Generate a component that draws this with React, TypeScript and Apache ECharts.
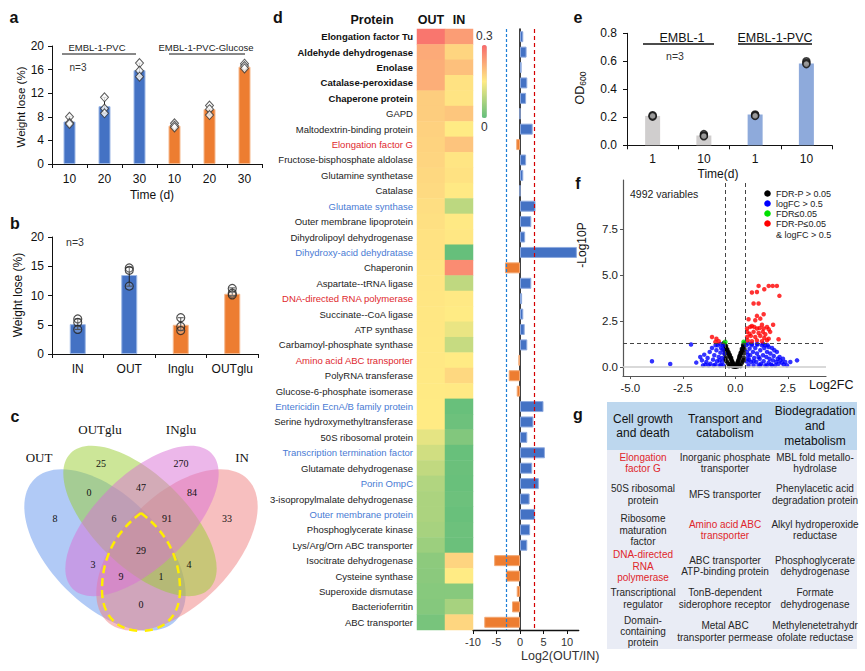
import React, { useEffect, useRef } from "react";
import * as echarts from "echarts";

const FONT = '"Liberation Sans", Arial, sans-serif';
const SERIF = '"Liberation Serif", "Times New Roman", serif';

// ---------- Panel a ----------
const aCategories = ["10", "20", "30", "10", "20", "30"];
const aValues = [7.2, 9.8, 15.9, 6.5, 9.3, 16.5];
const aPoints = [
  [8.0, 7.0, 6.8],
  [11.3, 9.4, 8.6],
  [17.1, 15.8, 14.8],
  [6.9, 6.5, 6.2],
  [9.9, 9.3, 8.3],
  [17.0, 16.6, 16.2],
];
const aErrLow = [6.8, 8.6, 14.8, 6.2, 8.3, 16.0];
const aErrHigh = [8.0, 11.3, 17.1, 6.9, 9.9, 17.0];

// ---------- Panel b ----------
const bCategories = ["IN", "OUT", "Inglu", "OUTglu"];
const bValues = [5.1, 13.5, 5.0, 10.3];
const bPoints = [
  [6.0, 5.4, 4.2],
  [14.7, 14.3, 11.6],
  [6.2, 4.7, 4.0],
  [11.2, 10.4, 10.1],
];
const bErrLow = [4.2, 11.6, 4.0, 10.0];
const bErrHigh = [6.0, 14.8, 6.2, 11.3];

// ---------- Panel c (Venn) ----------
const vennSets = ["OUT", "OUTglu", "INglu", "IN"];
const vennCounts = [25, 270, 0, 47, 84, 8, 6, 91, 33, 29, 3, 9, 1, 4, 0];

// ---------- Panel d ----------
const proteins = [
  "Elongation factor Tu", "Aldehyde dehydrogenase", "Enolase", "Catalase-peroxidase", "Chaperone protein",
  "GAPD", "Maltodextrin-binding protein", "Elongation factor G", "Fructose-bisphosphate aldolase",
  "Glutamine synthetase", "Catalase", "Glutamate synthase", "Outer membrane lipoprotein",
  "Dihydrolipoyl dehydrogenase", "Dihydroxy-acid dehydratase", "Chaperonin", "Aspartate--tRNA ligase",
  "DNA-directed RNA polymerase", "Succinate--CoA ligase", "ATP synthase", "Carbamoyl-phosphate synthase",
  "Amino acid ABC transporter", "PolyRNA transferase", "Glucose-6-phosphate isomerase",
  "Entericidin EcnA/B family protein", "Serine hydroxymethyltransferase", "50S ribosomal protein",
  "Transcription termination factor", "Glutamate dehydrogenase", "Porin OmpC",
  "3-isopropylmalate dehydrogenase", "Outer membrane protein", "Phosphoglycerate kinase",
  "Lys/Arg/Orn ABC transporter", "Isocitrate dehydrogenase", "Cysteine synthase",
  "Superoxide dismutase", "Bacterioferritin", "ABC transporter",
];
// k = bold, r = red, b = blue, n = normal
const proteinGroup = [
  "k", "k", "k", "k", "k", "n", "n", "r", "n", "n", "n", "b", "n", "n", "b", "n", "n", "r", "n", "n",
  "n", "r", "n", "n", "b", "n", "n", "b", "n", "b", "n", "b", "n", "n", "n", "n", "n", "n", "n",
];
const heatOut = [
  0.285, 0.225, 0.22, 0.22, 0.185, 0.185, 0.18, 0.178, 0.175, 0.172, 0.17, 0.165, 0.163, 0.16, 0.16,
  0.158, 0.157, 0.156, 0.155, 0.155, 0.154, 0.153, 0.152, 0.151, 0.15, 0.15, 0.125, 0.105, 0.09,
  0.075, 0.07, 0.07, 0.065, 0.055, 0.04, 0.038, 0.035, 0.033, 0.02,
];
const heatIn = [
  0.24, 0.175, 0.2, 0.16, 0.158, 0.193, 0.15, 0.195, 0.157, 0.16, 0.152, 0.086, 0.152, 0.155, 0.003,
  0.26, 0.088, 0.152, 0.15, 0.13, 0.095, 0.15, 0.172, 0.152, 0.005, 0.01, 0.03, 0.005, 0.008, 0.006,
  0.01, 0.006, 0.01, 0.008, 0.176, 0.15, 0.035, 0.065, 0.174,
];
const log2Ratio = [
  0.7, 1.4, 0.35, 1.55, 1.3, 0, 2.7, -0.8, 1.3, 0.7, 0, 3.3, 2.4, 1.1, 12.1, -3.2, 2.4, 0.45, 0.7,
  1.0, 1.55, -0.35, -2.4, -0.7, 5.0, 2.85, 1.55, 5.3, 2.6, 4.0, 2.05, 3.2, 2.15, 1.55, -5.5, -3.0,
  -0.7, -1.7, -7.6,
];
const log2Ticks = [-10, -5, 0, 5, 10];

// ---------- Panel e ----------
const eCategories = ["1", "10", "1", "10"];
const eValues = [0.21, 0.07, 0.22, 0.585];
const ePoints = [
  [0.215, 0.205, 0.21],
  [0.08, 0.07, 0.065],
  [0.22, 0.215, 0.21],
  [0.6, 0.588, 0.58],
];

// ---------- Panel f (volcano) ----------
const volcanoBlack = [
  [-0.56, 1.3], [-0.52, 1.25], [-0.5, 1.2], [-0.48, 1.12], [-0.45, 1.05], [-0.44, 1.15], [-0.42, 0.98],
  [-0.4, 0.9], [-0.38, 0.95], [-0.36, 0.82], [-0.34, 0.75], [-0.32, 0.8], [-0.3, 0.68], [-0.28, 0.6],
  [-0.26, 0.65], [-0.24, 0.52], [-0.22, 0.45], [-0.2, 0.5], [-0.18, 0.38], [-0.16, 0.32], [-0.14, 0.28],
  [-0.12, 0.22], [-0.1, 0.16], [-0.08, 0.12], [-0.06, 0.08], [-0.04, 0.04], [-0.02, 0.02],
  [0.44, 1.3], [0.42, 1.24], [0.4, 1.16], [0.38, 1.1], [0.37, 1.2], [0.35, 1.0], [0.33, 0.92], [0.31, 0.98],
  [0.3, 0.85], [0.28, 0.78], [0.26, 0.7], [0.25, 0.76], [0.23, 0.62], [0.21, 0.55], [0.2, 0.6], [0.18, 0.48],
  [0.16, 0.4], [0.14, 0.34], [0.12, 0.28], [0.1, 0.22], [0.08, 0.16], [0.06, 0.1], [0.04, 0.06], [0.02, 0.02],
  [0, 0.01], [-0.3, 0.05], [-0.25, 0.15], [-0.2, 0.1], [-0.15, 0.05], [-0.1, 0.02], [0.1, 0.03], [0.15, 0.08],
  [0.2, 0.12], [0.25, 0.05], [-0.35, 0.2], [0.3, 0.2], [-0.4, 0.3], [0.35, 0.3], [-0.45, 0.5], [0.4, 0.5],
  [-0.5, 0.7], [0.42, 0.75], [-0.52, 0.9], [0.44, 0.95], [-0.46, 0.35], [0.38, 0.38], [-0.5, 0.45],
];
const volcanoBlue = [
  [-3.97, 0.31], [-3.1, 0.16], [-2.11, 1.22], [-1.86, 0.24],
  [-1.67, 0.54], [-1.59, 0.36], [-1.48, 0.67], [-1.38, 0.27], [-1.32, 0.49], [-1.22, 0.82], [-1.19, 0.18],
  [-1.11, 1.03], [-1.06, 0.4], [-1.0, 0.64], [-0.95, 0.13], [-0.9, 0.91], [-0.87, 0.31], [-0.84, 1.18],
  [-0.79, 0.54], [-0.75, 0.09], [-0.71, 0.78], [-0.68, 1.03], [-0.63, 0.27], [-0.62, 0.49], [-0.59, 1.18],
  [-0.56, 0.09], [-0.52, 0.73], [-1.03, 0.09], [-1.27, 0.09], [-1.43, 0.13], [-1.54, 0.09], [-0.75, 0.36],
  [-0.94, 1.18], [-0.68, 0.09], [-0.6, 0.95], [-0.72, 1.25],
  [0.52, 1.18], [0.56, 0.82], [0.59, 0.45], [0.63, 0.09], [0.68, 1.0], [0.71, 0.64], [0.75, 0.27],
  [0.79, 1.18], [0.84, 0.82], [0.87, 0.09], [0.9, 0.49], [0.95, 1.03], [1.0, 0.27], [1.03, 0.73],
  [1.06, 1.22], [1.11, 0.09], [1.16, 0.45], [1.19, 0.91], [1.22, 0.18], [1.27, 1.18], [1.32, 0.64],
  [1.35, 0.31], [1.38, 1.03], [1.43, 0.09], [1.48, 0.54], [1.51, 0.82], [1.54, 1.18], [1.59, 0.24],
  [1.63, 0.45], [1.67, 0.73], [1.7, 0.13], [1.75, 1.03], [1.79, 0.36], [1.83, 0.6], [1.9, 0.09],
  [1.95, 0.27], [1.98, 0.82], [2.06, 0.18], [2.14, 0.36], [2.22, 0.24], [2.3, 0.13], [2.38, 0.27],
  [2.11, 0.54], [1.86, 0.91], [1.59, 1.09], [1.43, 1.18], [1.32, 1.27], [1.03, 1.25], [0.79, 1.26],
  [0.63, 1.27], [0.87, 0.31], [1.11, 0.54], [1.51, 0.09], [1.75, 0.09], [2.02, 0.45], [2.46, 0.09],
  [2.62, 0.27], [2.94, 0.36], [2.27, 0.45], [1.19, 0.09], [0.55, 0.3], [0.6, 0.65], [0.66, 0.4],
];
const volcanoGreen = [[-0.48, 1.36], [0.4, 1.36]];
const volcanoRed = [
  [0.79, 4.05], [1.03, 4.08], [1.11, 4.41], [1.38, 4.23], [1.59, 4.41], [1.78, 4.41], [1.98, 4.41],
  [2.1, 3.87], [0.87, 3.45], [1.11, 3.45], [1.35, 2.87], [1.03, 2.78], [1.19, 2.63], [0.95, 2.54],
  [0.63, 2.6], [1.27, 2.3], [0.71, 2.18], [1.8, 2.3], [0.56, 2.09], [0.79, 2.23], [0.9, 2.18],
  [1.03, 2.09], [1.16, 2.12], [1.35, 2.09], [1.51, 2.18], [1.59, 2.05], [0.56, 1.91], [0.68, 1.81],
  [0.87, 1.91], [1.11, 1.85], [1.31, 1.91], [1.43, 1.78], [1.66, 1.91], [0.56, 1.63], [0.74, 1.69],
  [0.95, 1.63], [1.19, 1.69], [1.38, 1.58], [1.59, 1.54], [2.06, 1.51], [0.59, 1.45], [0.79, 1.4],
  [1.03, 1.45], [1.27, 1.4], [1.51, 1.45], [-1.11, 1.63], [-0.9, 1.54], [-0.79, 1.4], [-0.95, 1.36],
];
const volcanoXTicks = [-5, -2.5, 0, 2.5];
const volcanoYTicks = [0, 2.5, 5, 7.5];
const legendLabels = ["FDR-P > 0.05", "logFC > 0.5", "FDR\u22640.05", "FDR-P\u22640.05", "& logFC > 0.5"];

// ---------- Panel g (table) ----------
const tableHeaders = ["Cell growth\nand death", "Transport and\ncatabolism", "Biodegradation\nand\nmetabolism"];
const tableCol1 = [
  "Elongation\nfactor G", "50S ribosomal\nprotein", "Ribosome\nmaturation\nfactor", "DNA-directed\nRNA\npolymerase",
  "Transcriptional\nregulator", "Domain-\ncontaining\nprotein",
];
const tableCol2 = [
  "Inorganic phosphate\ntransporter", "MFS transporter", "Amino acid ABC\ntransporter",
  "ABC transporter\nATP-binding protein", "TonB-dependent\nsiderophore receptor", "Metal ABC\ntransporter permease",
];
const tableCol3 = [
  "MBL fold metallo-\nhydrolase", "Phenylacetic acid\ndegradation protein", "Alkyl hydroperoxide\nreductase",
  "Phosphoglycerate\ndehydrogenase", "Formate\ndehydrogenase", "Methylenetetrahydr\nofolate reductase",
];
const tableHighlighted = ["Elongation\nfactor G", "DNA-directed\nRNA\npolymerase", "Amino acid ABC\ntransporter"];

// ---------- helpers ----------
function txt(text: string, x: number, y: number, o: any = {}) {
  return {
    type: "text",
    x,
    y,
    rotation: o.rotation || 0,
    silent: true,
    z: 10,
    style: {
      text,
      fill: o.color || "#111",
      font: `${o.weight || "normal"} ${o.size || 12}px ${o.family || FONT}`,
      textAlign: o.align || "center",
      textVerticalAlign: o.valign || "middle",
      lineHeight: o.lineHeight,
      rich: o.rich,
    },
  };
}
function hline(x1: number, y1: number, x2: number, y2: number, color = "#111", w = 1, dash?: number[]) {
  return {
    type: "line",
    silent: true,
    z: 10,
    shape: { x1, y1, x2, y2 },
    style: { stroke: color, lineWidth: w, lineDash: dash },
  };
}

function errRender(capW: number) {
  return (params: any, api: any) => {
    const x = api.value(0);
    const lo = api.coord([x, api.value(1)]);
    const hi = api.coord([x, api.value(2)]);
    const st = { stroke: "#222", lineWidth: 1 };
    return {
      type: "group",
      children: [
        { type: "line", shape: { x1: lo[0], y1: lo[1], x2: hi[0], y2: hi[1] }, style: st },
        { type: "line", shape: { x1: hi[0] - capW, y1: hi[1], x2: hi[0] + capW, y2: hi[1] }, style: st },
        { type: "line", shape: { x1: lo[0] - capW, y1: lo[1], x2: lo[0] + capW, y2: lo[1] }, style: st },
      ],
    };
  };
}

function pointsData(pts: number[][]) {
  const out: number[][] = [];
  pts.forEach((arr, i) => arr.forEach((v) => out.push([i, v])));
  return out;
}

function axisBase(extra: any = {}) {
  return {
    axisLine: { show: true, onZero: false, lineStyle: { color: "#111", width: 1 } },
    axisTick: { show: true, length: 4, lineStyle: { color: "#111" } },
    axisLabel: { color: "#111", fontSize: 12, fontFamily: FONT },
    splitLine: { show: false },
    ...extra,
  };
}

function catLabel(margin: number) {
  return { color: "#111", fontSize: 12, fontFamily: FONT, margin, interval: 0 };
}

function buildOption() {
  const BLUE = "#4472C4";
  const ORANGE = "#ED7D31";

  // Venn layout
  const ellipses = [
    { cx: 105, cy: 550, rx: 100, ry: 55, rot: -Math.PI / 4, fill: "rgba(100,149,237,0.5)" },
    { cx: 177, cy: 550, rx: 100, ry: 55, rot: Math.PI / 4, fill: "rgba(240,128,128,0.5)" },
    { cx: 140, cy: 521, rx: 97, ry: 46, rot: -0.77, fill: "rgba(154,205,50,0.5)" },
    { cx: 142, cy: 521, rx: 97, ry: 46, rot: 0.77, fill: "rgba(218,112,214,0.5)" },
  ];
  const vennLabelPos = [[39, 457], [100, 429], [181, 429], [242, 457]];
  const vennCountPos = [
    [101, 463], [181, 463], [89, 492], [141, 487], [192, 492], [55, 518], [114, 518], [167, 518],
    [227, 518], [141, 550], [93, 564], [121, 576], [161, 576], [189, 564], [141, 604],
  ];

  const graphics: any[] = [];
  ellipses.forEach((e) =>
    graphics.push({
      type: "ellipse",
      x: e.cx,
      y: e.cy,
      rotation: e.rot,
      silent: true,
      z: 1,
      shape: { cx: 0, cy: 0, rx: e.rx, ry: e.ry },
      style: { fill: e.fill },
    })
  );
  const tearStyle = { fill: "none", stroke: "#ffee00", lineWidth: 2.5, lineDash: [8, 5] };
  const tear = [
    [141, 513, 102, 590, 125, 525, 102, 548],
    [102, 590, 141, 631, 102, 618, 120, 631],
    [141, 513, 180, 590, 157, 525, 180, 548],
    [180, 590, 141, 631, 180, 618, 162, 631],
  ];
  tear.forEach((t) =>
    graphics.push({
      type: "bezierCurve",
      silent: true,
      z: 2,
      shape: { x1: t[0], y1: t[1], x2: t[2], y2: t[3], cpx1: t[4], cpy1: t[5], cpx2: t[6], cpy2: t[7] },
      style: tearStyle,
    })
  );
  vennSets.forEach((s, i) => graphics.push(txt(s, vennLabelPos[i][0], vennLabelPos[i][1], { size: 13, family: SERIF })));
  vennCounts.forEach((c, i) =>
    graphics.push(txt(String(c), vennCountPos[i][0], vennCountPos[i][1], { size: 10, family: SERIF }))
  );

  // panel letters
  const letters: [string, number, number][] = [
    ["a", 14, 17], ["b", 15, 223], ["c", 15, 416], ["d", 278, 17], ["e", 578, 17], ["f", 578, 183], ["g", 578, 414],
  ];
  letters.forEach(([l, x, y]) => graphics.push(txt(l, x, y, { size: 16, weight: "bold" })));

  // panel a annotations
  graphics.push(txt("EMBL-1-PVC", 97, 47, { size: 9.5, color: "#222" }));
  graphics.push(hline(62, 54, 136, 54));
  graphics.push(txt("EMBL-1-PVC-Glucose", 206, 47, { size: 9.5, color: "#222" }));
  graphics.push(hline(169, 54, 245, 54));
  graphics.push(txt("n=3", 78, 67, { size: 10, color: "#333" }));
  graphics.push(txt("Weight lose (%)", 21, 107, { size: 11.5, rotation: Math.PI / 2 }));
  graphics.push(txt("Time (d)", 152, 195, { size: 12 }));

  // panel b annotations
  graphics.push(txt("n=3", 75, 242, { size: 10.5, color: "#333" }));
  graphics.push(txt("Weight lose (%)", 18, 295, { size: 12, rotation: Math.PI / 2 }));

  // panel d annotations
  graphics.push(txt("Protein", 372, 20, { size: 12.5, weight: "bold" }));
  graphics.push(txt("Log2(OUT/IN)", 521, 656, { size: 12.5, align: "left", color: "#333" }));

  // panel e annotations
  graphics.push(txt("EMBL-1", 682, 38, { size: 12.5 }));
  graphics.push(hline(643, 44, 714, 44, "#111", 1.5));
  graphics.push(txt("EMBL-1-PVC", 775, 38, { size: 12.5 }));
  graphics.push(hline(738, 44, 812, 44, "#111", 1.5));
  graphics.push(txt("n=3", 675, 56, { size: 10.5, color: "#333" }));
  graphics.push(txt("Time(d)", 718, 174, { size: 12 }));
  graphics.push(
    txt("{a|OD}{s|600}", 580, 88, {
      rotation: Math.PI / 2,
      size: 12.5,
      rich: {
        a: { fontSize: 12.5, fontFamily: FONT, fill: "#111" },
        s: { fontSize: 8.5, fontFamily: FONT, fill: "#111", verticalAlign: "bottom", padding: [6, 0, 0, 0] },
      },
    })
  );

  // panel f annotations
  graphics.push(txt("4992 variables", 630, 194, { size: 10.5, align: "left", color: "#222" }));
  graphics.push(txt("-Log10P", 582, 245, { size: 12, rotation: Math.PI / 2 }));
  graphics.push(txt("Log2FC", 809, 385, { size: 12.5, align: "left" }));
  const legColors = ["#000000", "#0000ff", "#00e000", "#ff0000"];
  const legY = [193.5, 203.5, 213.5, 223.5, 235];
  legendLabels.forEach((l, i) => {
    if (i < 4)
      graphics.push({
        type: "circle",
        silent: true,
        z: 10,
        shape: { cx: 767.5, cy: legY[i], r: 3.3 },
        style: { fill: legColors[i] },
      });
    graphics.push(txt(l, 776, legY[i], { size: 9, align: "left", color: "#222" }));
  });

  // panel g table
  graphics.push({ type: "rect", silent: true, z: 1, shape: { x: 607, y: 402, width: 250, height: 48 }, style: { fill: "#bdd7ee" } });
  graphics.push({ type: "rect", silent: true, z: 1, shape: { x: 607, y: 450, width: 250, height: 199 }, style: { fill: "#e9ecf5" } });
  const colX = [643, 725, 815];
  tableHeaders.forEach((h, i) => graphics.push(txt(h, colX[i], 426, { size: 12, lineHeight: 14.7, color: "#111" })));
  const rowY = [463, 494.5, 530, 566, 598.5, 631.5];
  [tableCol1, tableCol2, tableCol3].forEach((col, ci) =>
    col.forEach((cell, ri) =>
      graphics.push(
        txt(cell, colX[ci], rowY[ri], {
          size: 10,
          lineHeight: 11.3,
          color: tableHighlighted.includes(cell) ? "#e0262b" : "#262626",
        })
      )
    )
  );

  const heatData: number[][] = [];
  proteins.forEach((_, i) => {
    heatData.push([0, i, heatOut[i]]);
    heatData.push([1, i, heatIn[i]]);
  });

  const richBase = { fontSize: 9.5, fontFamily: FONT };

  return {
    animation: false,
    backgroundColor: "#ffffff",
    grid: [
      { left: 52, top: 46, width: 210, height: 118 },
      { left: 52, top: 237, width: 206, height: 117 },
      { left: 417, top: 29, width: 56, height: 601 },
      { left: 473, top: 29, width: 105.75, height: 601 },
      { left: 627, top: 33.3, width: 205, height: 112 },
      { left: 623, top: 180, width: 203, height: 196 },
    ],
    xAxis: [
      axisBase({ gridIndex: 0, type: "category", data: aCategories, axisLabel: catLabel(9) }),
      axisBase({ gridIndex: 1, type: "category", data: bCategories, axisLabel: catLabel(9) }),
      {
        gridIndex: 2,
        type: "category",
        data: ["OUT", "IN"],
        position: "top",
        axisLine: { show: false },
        axisTick: { show: false },
        axisLabel: { fontSize: 12.5, fontWeight: "bold", fontFamily: FONT, color: "#111", margin: 3, interval: 0 },
        splitLine: { show: false },
      },
      axisBase({
        gridIndex: 3,
        type: "value",
        min: -10,
        max: 12.5,
        axisLine: { show: true, onZero: false, lineStyle: { color: "#111", width: 1.3 } },
        axisTick: { show: true, length: 4, customValues: log2Ticks, lineStyle: { color: "#111" } },
        axisLabel: { color: "#333", fontSize: 11, fontFamily: FONT, margin: 6, customValues: log2Ticks },
      }),
      axisBase({ gridIndex: 4, type: "category", data: eCategories, axisLabel: catLabel(8) }),
      axisBase({
        gridIndex: 5,
        type: "value",
        min: -5.35,
        max: 4.32,
        axisLine: { show: true, onZero: false, lineStyle: { color: "#555", width: 1.2 } },
        axisTick: { show: true, length: 3, customValues: volcanoXTicks, lineStyle: { color: "#555" } },
        axisLabel: {
          color: "#222",
          fontSize: 11.5,
          fontFamily: FONT,
          margin: 6,
          customValues: volcanoXTicks,
          formatter: (v: number) => v.toFixed(1),
        },
      }),
    ],
    yAxis: [
      axisBase({ gridIndex: 0, type: "value", min: 0, max: 20, interval: 4 }),
      axisBase({ gridIndex: 1, type: "value", min: 0, max: 20, interval: 5 }),
      {
        gridIndex: 2,
        type: "category",
        data: proteins,
        inverse: true,
        axisLine: { show: false },
        axisTick: { show: false },
        splitLine: { show: false },
        axisLabel: {
          interval: 0,
          margin: 4,
          fontSize: 9.5,
          fontFamily: FONT,
          formatter: (v: string, i: number) => `{${proteinGroup[i]}|${v}}`,
          rich: {
            k: { ...richBase, fontWeight: "bold", color: "#111" },
            r: { ...richBase, color: "#e0282e" },
            b: { ...richBase, color: "#4a7bd4" },
            n: { ...richBase, color: "#222" },
          },
        },
      },
      {
        gridIndex: 3,
        type: "category",
        data: proteins,
        inverse: true,
        axisLine: { show: true, onZero: true, lineStyle: { color: "#000", width: 1.5 } },
        axisTick: { show: false },
        axisLabel: { show: false },
        splitLine: { show: false },
      },
      axisBase({
        gridIndex: 4,
        type: "value",
        min: 0,
        max: 0.8,
        interval: 0.2,
        axisLabel: { color: "#111", fontSize: 12, fontFamily: FONT, margin: 10, formatter: (v: number) => v.toFixed(1) },
      }),
      axisBase({
        gridIndex: 5,
        type: "value",
        min: -0.49,
        max: 10.17,
        axisLine: { show: true, onZero: false, lineStyle: { color: "#555", width: 1.2 } },
        axisTick: { show: true, length: 3, customValues: volcanoYTicks, lineStyle: { color: "#555" } },
        axisLabel: {
          color: "#222",
          fontSize: 11.5,
          fontFamily: FONT,
          margin: 5,
          customValues: volcanoYTicks,
          formatter: (v: number) => v.toFixed(1),
        },
      }),
    ],
    visualMap: {
      type: "continuous",
      seriesIndex: 6,
      min: 0,
      max: 0.3,
      orient: "vertical",
      left: 476,
      top: 30,
      itemWidth: 5,
      itemHeight: 73,
      padding: 0,
      textGap: 3,
      text: ["0.3", "0"],
      calculable: false,
      hoverLink: false,
      inRange: { color: ["#63BE7B", "#FFEB84", "#F8696B"] },
      textStyle: { color: "#333", fontSize: 12, fontFamily: FONT },
    },
    graphic: { elements: graphics },
    series: [
      {
        type: "bar",
        xAxisIndex: 0,
        yAxisIndex: 0,
        barWidth: 12,
        data: aValues.map((v, i) => ({
          value: v,
          itemStyle: { color: i < 3 ? BLUE : ORANGE, borderColor: i < 3 ? "#9db8e6" : "#f5b98e", borderWidth: 1 },
        })),
      },
      {
        type: "custom",
        xAxisIndex: 0,
        yAxisIndex: 0,
        z: 3,
        renderItem: errRender(2),
        data: aErrLow.map((lo, i) => [i, lo, aErrHigh[i]]),
      },
      {
        type: "scatter",
        xAxisIndex: 0,
        yAxisIndex: 0,
        z: 4,
        symbol: "diamond",
        symbolSize: [8, 9],
        itemStyle: { color: "#fff", borderColor: "#333", borderWidth: 1 },
        data: pointsData(aPoints),
      },
      {
        type: "bar",
        xAxisIndex: 1,
        yAxisIndex: 1,
        barWidth: 16,
        data: bValues.map((v, i) => ({
          value: v,
          itemStyle: { color: i < 2 ? BLUE : ORANGE, borderColor: i < 2 ? "#9db8e6" : "#f5b98e", borderWidth: 1 },
        })),
      },
      {
        type: "custom",
        xAxisIndex: 1,
        yAxisIndex: 1,
        z: 3,
        renderItem: errRender(3),
        data: bErrLow.map((lo, i) => [i, lo, bErrHigh[i]]),
      },
      {
        type: "scatter",
        xAxisIndex: 1,
        yAxisIndex: 1,
        z: 4,
        symbol: "circle",
        symbolSize: 8,
        itemStyle: { color: "rgba(255,255,255,0.25)", borderColor: "#222", borderWidth: 1.2 },
        data: pointsData(bPoints),
      },
      {
        type: "heatmap",
        xAxisIndex: 2,
        yAxisIndex: 2,
        data: heatData,
        itemStyle: { borderWidth: 0 },
        progressive: 0,
      },
      {
        type: "bar",
        xAxisIndex: 3,
        yAxisIndex: 3,
        barWidth: 11,
        data: log2Ratio.map((v) => ({
          value: v,
          itemStyle: {
            color: v >= 0 ? BLUE : ORANGE,
            borderColor: v >= 0 ? "#8eaadf" : "#f3a873",
            borderWidth: 1,
          },
        })),
        markLine: {
          silent: true,
          symbol: "none",
          label: { show: false },
          data: [
            { xAxis: -2.9, lineStyle: { color: "#1f7fd6", type: [3, 2], width: 1.2 } },
            { xAxis: 3, lineStyle: { color: "#d40000", type: [4, 3], width: 1.2 } },
          ],
        },
      },
      {
        type: "bar",
        xAxisIndex: 4,
        yAxisIndex: 4,
        barWidth: 15,
        data: eValues.map((v, i) => ({ value: v, itemStyle: { color: i < 2 ? "#d0cece" : "#8eaadb" } })),
      },
      {
        type: "scatter",
        xAxisIndex: 4,
        yAxisIndex: 4,
        z: 4,
        symbol: "circle",
        symbolSize: 7,
        itemStyle: { color: "#9a9a9a", borderColor: "#111", borderWidth: 1.5 },
        data: pointsData(ePoints),
      },
      {
        type: "scatter",
        xAxisIndex: 5,
        yAxisIndex: 5,
        symbolSize: 4.5,
        itemStyle: { color: "#000" },
        data: volcanoBlack,
        markLine: {
          silent: true,
          symbol: "none",
          label: { show: false },
          data: [
            { yAxis: 0, lineStyle: { color: "#cccccc", type: "solid", width: 1.5 } },
            { yAxis: 1.3, lineStyle: { color: "#444", type: [4, 3], width: 1 } },
            { xAxis: -0.5, lineStyle: { color: "#444", type: [4, 3], width: 1 } },
            { xAxis: 0.48, lineStyle: { color: "#444", type: [4, 3], width: 1 } },
          ],
        },
      },
      {
        type: "scatter",
        xAxisIndex: 5,
        yAxisIndex: 5,
        symbolSize: 4.5,
        itemStyle: { color: "#0000ff" },
        data: volcanoBlue,
      },
      {
        type: "scatter",
        xAxisIndex: 5,
        yAxisIndex: 5,
        symbolSize: 5,
        itemStyle: { color: "#00e000" },
        data: volcanoGreen,
      },
      {
        type: "scatter",
        xAxisIndex: 5,
        yAxisIndex: 5,
        symbolSize: 4.5,
        itemStyle: { color: "#ff0000" },
        data: volcanoRed,
      },
    ],
  };
}

export default function App() {
  const ref = useRef<HTMLDivElement>(null);
  useEffect(() => {
    if (!ref.current) return;
    const chart = echarts.init(ref.current, undefined, { renderer: "svg" });
    chart.setOption(buildOption() as any);
    return () => chart.dispose();
  }, []);
  return (
    <div
      ref={ref}
      style={{ position: "absolute", left: 0, top: 0, width: 865, height: 671, background: "#fff" }}
    />
  );
}
